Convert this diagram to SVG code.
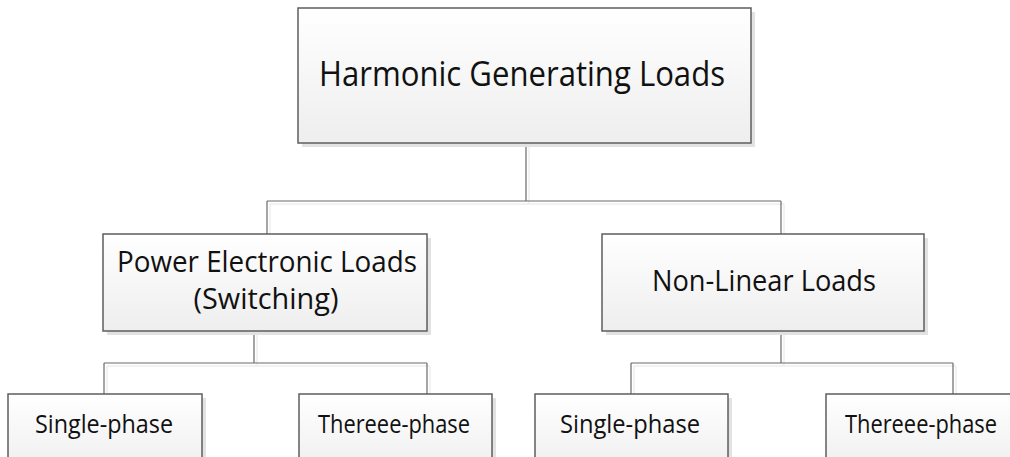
<svg xmlns="http://www.w3.org/2000/svg" width="1010" height="457" viewBox="0 0 1010 457">
  <defs>
    <linearGradient id="boxFill" x1="0" y1="0" x2="0" y2="1">
      <stop offset="0" stop-color="#ffffff"/>
      <stop offset="1" stop-color="#eeeeee"/>
    </linearGradient>
    <style>
      .shadow { fill: #e2e2e2; }
      .box { fill: url(#boxFill); stroke: #5e5e5e; stroke-width: 1.5; }
      .conn { fill: none; stroke: #6a6a6a; stroke-width: 1.2; }
      .connShadow { fill: none; stroke: #eeeeee; stroke-width: 1.5; }
      .lbl { font-family: "Open Sans", "Noto Sans", "Liberation Sans", sans-serif; fill: #111111; text-anchor: middle; }
      .l1 { font-size: 35px; }
      .l2 { font-size: 30px; }
      .l3 { font-size: 25px; }
    </style>
  </defs>
  <rect width="1010" height="457" fill="#ffffff"/>

  <g id="connectors">
    <path class="connShadow" d="M529,145 V204 M270,204 H784 M270,204 V236 M784,204 V236 M257,333 V366 M107,366 H430 M107,366 V396 M430,366 V396 M784,333 V366 M634,366 H956 M634,366 V396 M956,366 V396"/>
    <path class="conn" d="M526,143 V201 M267,201 H781 M267,201 V234 M781,201 V234"/>
    <path class="conn" d="M254,331 V363 M104,363 H427 M104,363 V394 M427,363 V394"/>
    <path class="conn" d="M781,331 V363 M631,363 H953 M631,363 V394 M953,363 V394"/>
  </g>

  <g id="node-harmonic">
    <rect class="shadow" x="302" y="12" width="453" height="135"/>
    <rect class="box" x="298" y="8" width="453" height="135"/>
    <text class="lbl l1" x="522" y="86" textLength="406" lengthAdjust="spacingAndGlyphs">Harmonic Generating Loads</text>
  </g>

  <g id="node-power-electronic">
    <rect class="shadow" x="107" y="238" width="324" height="97"/>
    <rect class="box" x="103" y="234" width="324" height="97"/>
    <text class="lbl l2" x="267" y="272" textLength="300" lengthAdjust="spacingAndGlyphs">Power Electronic Loads</text>
    <text class="lbl l2" x="266" y="309" textLength="145" lengthAdjust="spacingAndGlyphs">(Switching)</text>
  </g>

  <g id="node-nonlinear">
    <rect class="shadow" x="606" y="238" width="322" height="97"/>
    <rect class="box" x="602" y="234" width="322" height="97"/>
    <text class="lbl l2" x="764" y="291" textLength="224" lengthAdjust="spacingAndGlyphs">Non-Linear Loads</text>
  </g>

  <g id="node-pe-single">
    <rect class="shadow" x="12" y="398" width="194" height="80"/>
    <rect class="box" x="8" y="394" width="194" height="80"/>
    <text class="lbl l3" x="104" y="433" textLength="138" lengthAdjust="spacingAndGlyphs">Single-phase</text>
  </g>

  <g id="node-pe-three">
    <rect class="shadow" x="303" y="398" width="193" height="80"/>
    <rect class="box" x="299" y="394" width="193" height="80"/>
    <text class="lbl l3" x="394" y="433" textLength="152" lengthAdjust="spacingAndGlyphs">Thereee-phase</text>
  </g>

  <g id="node-nl-single">
    <rect class="shadow" x="539" y="398" width="193" height="80"/>
    <rect class="box" x="535" y="394" width="193" height="80"/>
    <text class="lbl l3" x="630" y="433" textLength="140" lengthAdjust="spacingAndGlyphs">Single-phase</text>
  </g>

  <g id="node-nl-three">
    <rect class="shadow" x="830" y="398" width="193" height="80"/>
    <rect class="box" x="826" y="394" width="193" height="80"/>
    <text class="lbl l3" x="921" y="433" textLength="152" lengthAdjust="spacingAndGlyphs">Thereee-phase</text>
  </g>
</svg>
